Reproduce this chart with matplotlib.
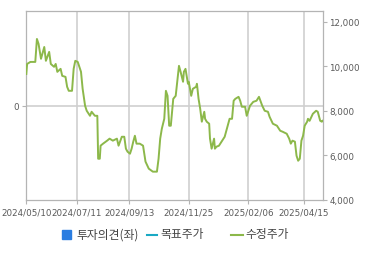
import matplotlib
matplotlib.use("Agg")
import matplotlib.pyplot as plt
import matplotlib.dates as mdates
from matplotlib.patches import Rectangle
from matplotlib.lines import Line2D
import pandas as pd

# 수정주가: days after 2024-05-10 and price
start_date = "2024-05-10"
price_days = [0, 1, 5, 11, 13, 15, 18, 22, 24, 28, 30, 34, 36, 38, 42, 44, 48, 50, 52, 56,
              58, 60, 63, 67, 69, 72, 74, 78, 80, 84, 87, 88, 90, 91, 94, 99, 102, 106, 111, 113,
              117, 120, 122, 124, 127, 129, 131, 133, 135, 139, 143, 146, 150, 155, 160, 162, 164, 166, 169, 171,
              173, 175, 177, 180, 183, 187, 189, 192, 193, 195, 198, 199, 202, 204, 208, 209, 211, 213, 215, 218,
              219, 221, 224, 225, 227, 230, 231, 233, 236, 240, 243, 248, 249, 252, 254, 256, 260, 262, 264, 268,
              270, 274, 278, 282, 285, 289, 292, 296, 298, 302, 307, 311, 314, 319, 322, 324, 326, 329, 331, 333,
              335, 337, 339, 341, 344, 345, 347, 351, 355, 357, 360, 362, 363]
price_values = [9650, 10100, 10190, 10190, 11220, 11000, 10330, 10860, 10240, 10640, 10100, 9970, 10100, 9745, 9880, 9565, 9520, 9075, 8895, 8895,
                9880, 10240, 10190, 9745, 8985, 8225, 8000, 7775, 7955, 7775, 7775, 5850, 5850, 6435, 6525, 6660, 6750, 6660, 6750, 6435,
                6835, 6835, 6300, 6165, 6075, 6300, 6615, 6880, 6525, 6525, 6435, 5720, 5405, 5270, 5270, 5850, 6750, 7195, 7640, 8895,
                8670, 7330, 7330, 8535, 8670, 10015, 9745, 9300, 9745, 9880, 9210, 9300, 8670, 8985, 9075, 9210, 8535, 8090, 7510, 7955,
                7640, 7510, 7420, 6750, 6300, 6750, 6300, 6390, 6435, 6660, 6835, 7510, 7640, 7640, 8450, 8535, 8625, 8450, 8180, 8180,
                7775, 8225, 8400, 8450, 8625, 8225, 8000, 7955, 7730, 7420, 7330, 7105, 7060, 6970, 6750, 6525, 6660, 6615, 5985, 5760,
                5850, 6660, 6880, 7330, 7510, 7640, 7550, 7865, 8000, 7955, 7550, 7510, 7550]

tick_dates = ["2024-05-10", "2024-07-11", "2024-09-13", "2024-11-25", "2025-02-06", "2025-04-15"]
price_ticks = [4000, 6000, 8000, 10000, 12000]
opinion_ticks = [0]
legend_labels = ["투자의견(좌)", "목표주가", "수정주가"]

dates = pd.Timestamp(start_date) + pd.to_timedelta(price_days, unit="D")
tick_pos = pd.to_datetime(tick_dates)

GRAY = "#b4b4b4"
TXT = "#5a5a5a"
GREEN = "#8cb84a"
GRID = "#cfcfcf"

fig = plt.figure(figsize=(3.7, 2.55), dpi=100)
ax = fig.add_axes([0.0711, 0.2118, 0.8016, 0.74])
ax2 = ax.twinx()
ax2.patch.set_visible(False)

ax.set_xlim(pd.Timestamp(start_date), pd.Timestamp(start_date) + pd.Timedelta(days=363.3))
ax.set_ylim(-1, 1)
ax.set_yticks(opinion_ticks)
ax.set_yticklabels([str(t) for t in opinion_ticks])
ax2.set_ylim(4000, 12460)
ax2.set_yticks(price_ticks)
ax2.set_yticklabels([f"{t:,}" for t in price_ticks])

ax.set_xticks(tick_pos)
ax.xaxis.set_major_formatter(mdates.DateFormatter("%Y/%m/%d"))

# light grid (date ticks, left axis 0) on the front axes, under the price line
for d in tick_pos[1:]:
    ax2.axvline(d, color=GRID, lw=1.2, zorder=1)
for t in opinion_ticks:
    ax2.add_line(Line2D([0, 1], [t, t], transform=ax.get_yaxis_transform(),
                        color=GRID, lw=1.2, zorder=1))

ax2.plot(dates, price_values, color=GREEN, lw=1.4, zorder=3)

# spines: draw once, from the front axes
for s in ax.spines.values():
    s.set_visible(False)
for s in ax2.spines.values():
    s.set_color(GRAY)
    s.set_linewidth(0.9)

ax.tick_params(colors=GRAY, labelcolor=TXT, labelsize=6.3, length=3, width=0.8, pad=2.5)
ax2.tick_params(colors=GRAY, labelcolor=TXT, labelsize=6.3, length=3, width=0.8, pad=1.5)

# legend drawn by hand to match the spacing
fig.patches.append(Rectangle((62 / 370, 1 - 240 / 255), 9 / 370, 9 / 255,
                             transform=fig.transFigure, color="#2a7de1"))
fig.lines.append(Line2D([147 / 370, 157 / 370], [1 - 236 / 255] * 2,
                        transform=fig.transFigure, color="#1aa9c4", lw=1.5))
fig.lines.append(Line2D([231 / 370, 243 / 370], [1 - 236 / 255] * 2,
                        transform=fig.transFigure, color=GREEN, lw=1.5))
for x, lab in zip([76, 160, 245], legend_labels):
    fig.text(x / 370, 1 - 235 / 255, lab, fontsize=8.5, color="#444444", va="center",
             family=["Noto Sans CJK KR", "DejaVu Sans"])

fig.savefig("out.png", dpi=100)
